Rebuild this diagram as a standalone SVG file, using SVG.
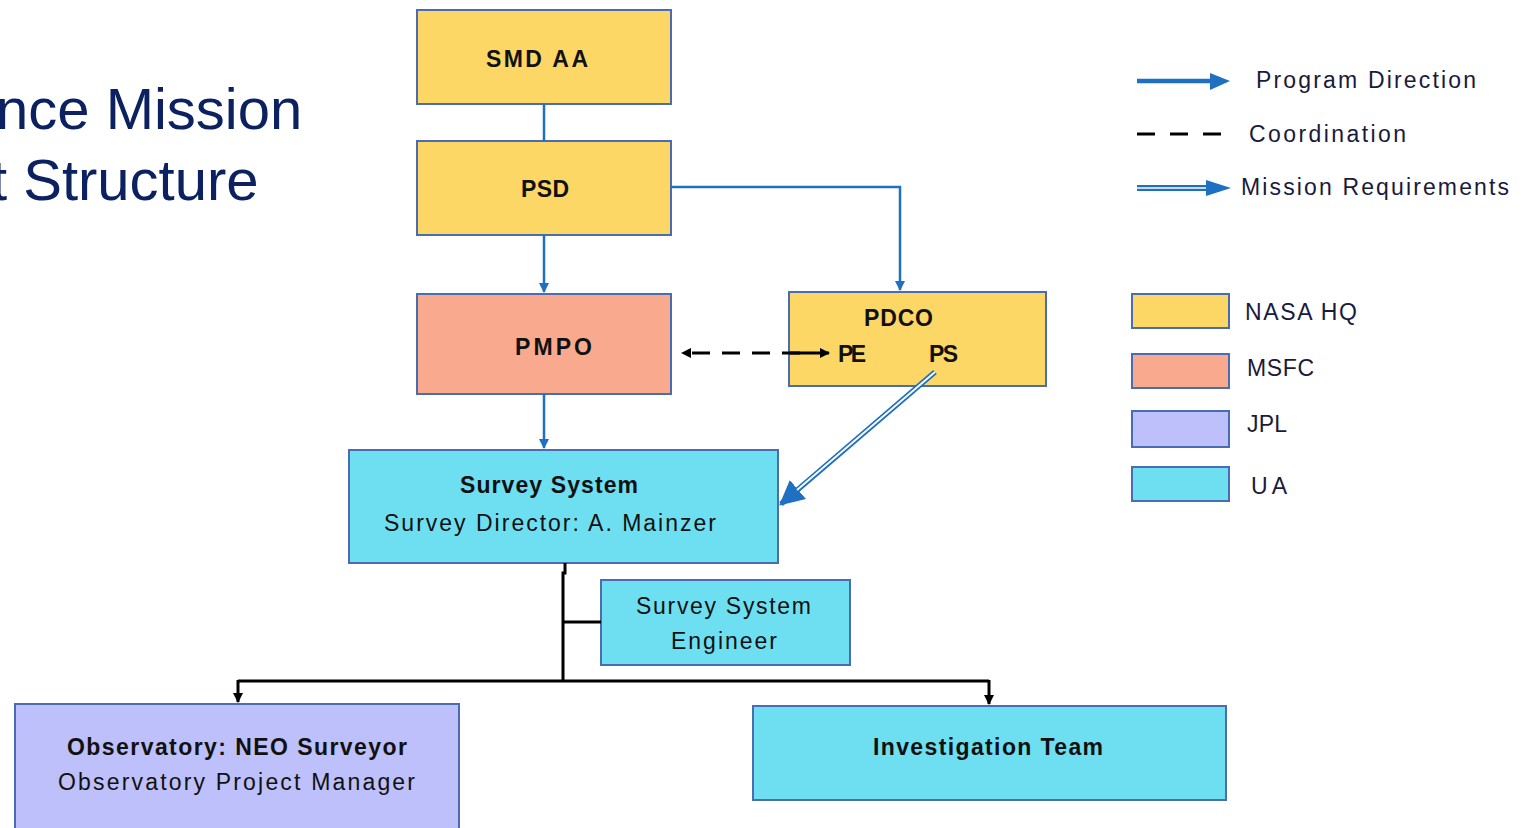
<svg xmlns="http://www.w3.org/2000/svg" width="1534" height="828" viewBox="0 0 1534 828">
<style>
.box{stroke:#4a6cb0;stroke-width:2}
.hq{fill:#fdd766}
.msfc{fill:#f9aa8e}
.jpl{fill:#bdc0fa}
.ua{fill:#6edff1}
.t{font-family:"Liberation Sans",Arial,sans-serif;font-size:23px;fill:#111}
.b{font-weight:bold}
.lg{font-family:"Liberation Sans",Arial,sans-serif;font-size:23px;fill:#1a1a3a}
.title{font-family:"Liberation Sans",Arial,sans-serif;font-size:58px;fill:#0b2160}
.pd{stroke:#1f6fc2;stroke-width:2.5;fill:none}
.blk{stroke:#000;stroke-width:3;fill:none}
</style>
<defs>
<marker id="ab" viewBox="0 0 10 10" refX="9" refY="5" markerWidth="4" markerHeight="4" orient="auto" markerUnits="strokeWidth"><path d="M0,0 L10,5 L0,10 z" fill="#1f6fc2"/></marker>
<marker id="ak" viewBox="0 0 10 10" refX="9" refY="5" markerWidth="3.5" markerHeight="3.5" orient="auto" markerUnits="strokeWidth"><path d="M0,0 L10,5 L0,10 z" fill="#000"/></marker>
<marker id="adb" viewBox="0 0 10 10" refX="9" refY="5" markerWidth="4.5" markerHeight="4.5" orient="auto" markerUnits="strokeWidth"><path d="M0,0 L10,5 L0,10 z" fill="#1f6fc2"/></marker>
</defs>
<rect width="1534" height="828" fill="#fff"/>
<g id="title">
<text class="title" x="-4" y="129">nce Mission</text>
<text class="title" x="-9" y="200">t Structure</text>
</g>
<g id="smd-aa"><rect class="box hq" x="417" y="10" width="254" height="94"/><text class="t b" x="486" y="67" textLength="102">SMD AA</text></g>
<g id="psd"><rect class="box hq" x="417" y="141" width="254" height="94"/><text class="t b" x="521" y="197" textLength="48">PSD</text></g>
<g id="pmpo"><rect class="box msfc" x="417" y="294" width="254" height="100"/><text class="t b" x="515" y="355" textLength="77">PMPO</text></g>
<g id="pdco"><rect class="box hq" x="789" y="292" width="257" height="94"/><text class="t b" x="864" y="326" textLength="69">PDCO</text><text class="t b" x="838" y="362" textLength="28">PE</text><text class="t b" x="929" y="362" textLength="29">PS</text></g>
<g id="survey-system"><rect class="box ua" x="349" y="450" width="429" height="113"/><text class="t b" x="460" y="493" textLength="178">Survey System</text><text class="t" x="384" y="531" textLength="332">Survey Director: A. Mainzer</text></g>
<g id="survey-engineer"><rect class="box ua" x="601" y="580" width="249" height="85"/><text class="t" x="636" y="614" textLength="175">Survey System</text><text class="t" x="671" y="649" textLength="106">Engineer</text></g>
<g id="observatory"><rect class="box jpl" x="15" y="704" width="444" height="130"/><text class="t b" x="67" y="755" textLength="340">Observatory: NEO Surveyor</text><text class="t" x="58" y="790" textLength="357">Observatory Project Manager</text></g>
<g id="investigation-team"><rect class="box ua" x="753" y="706" width="473" height="94"/><text class="t b" x="873" y="755" textLength="230">Investigation Team</text></g>
<g id="connectors">
<line class="pd" x1="544" y1="104" x2="544" y2="141"/>
<line class="pd" x1="544" y1="235" x2="544" y2="292" marker-end="url(#ab)"/>
<polyline class="pd" points="671,187 900,187 900,290" marker-end="url(#ab)"/>
<line class="pd" x1="544" y1="394" x2="544" y2="448" marker-end="url(#ab)"/>
<line x1="800" y1="353" x2="682" y2="353" stroke="#000" stroke-width="3" stroke-dasharray="18,12" marker-end="url(#ak)"/>
<line x1="790" y1="353" x2="829" y2="353" stroke="#000" stroke-width="3" marker-end="url(#ak)"/>
<line x1="935" y1="372" x2="781" y2="504" stroke="#1f6fc2" stroke-width="5.5" marker-end="url(#adb)"/>
<line x1="935" y1="372" x2="797" y2="490" stroke="#fff" stroke-width="1.8"/>
<polyline class="blk" points="565,563 565,573 563,573 563,681"/>
<line class="blk" x1="563" y1="622" x2="601" y2="622"/>
<polyline class="blk" points="238,681 989,681"/>
<line class="blk" x1="238" y1="680" x2="238" y2="702" marker-end="url(#ak)"/>
<line class="blk" x1="989" y1="680" x2="989" y2="704" marker-end="url(#ak)"/>
</g>
<g id="legend">
<line x1="1137" y1="81" x2="1214" y2="81" stroke="#1f6fc2" stroke-width="4.5"/>
<path d="M1210,73 L1230,81 L1210,90 z" fill="#1f6fc2"/>
<text class="lg" x="1256" y="88" textLength="220">Program Direction</text>
<line x1="1137" y1="134" x2="1225" y2="134" stroke="#000" stroke-width="3" stroke-dasharray="18,15"/>
<text class="lg" x="1249" y="142" textLength="157">Coordination</text>
<line x1="1137" y1="188" x2="1214" y2="188" stroke="#1f6fc2" stroke-width="6"/>
<line x1="1137" y1="188" x2="1210" y2="188" stroke="#fff" stroke-width="1.5"/>
<path d="M1206,180 L1231,188 L1206,196 z" fill="#1f6fc2"/>
<text class="lg" x="1241" y="195" textLength="268">Mission Requirements</text>
<rect class="box hq" x="1132" y="294" width="97" height="34"/><text class="lg" x="1245" y="320" textLength="112">NASA HQ</text>
<rect class="box msfc" x="1132" y="354" width="97" height="34"/><text class="lg" x="1247" y="376" textLength="67">MSFC</text>
<rect class="box jpl" x="1132" y="411" width="97" height="36"/><text class="lg" x="1247" y="432" textLength="40">JPL</text>
<rect class="box ua" x="1132" y="467" width="97" height="34"/><text class="lg" x="1251" y="494" textLength="36">UA</text>
</g>
</svg>
